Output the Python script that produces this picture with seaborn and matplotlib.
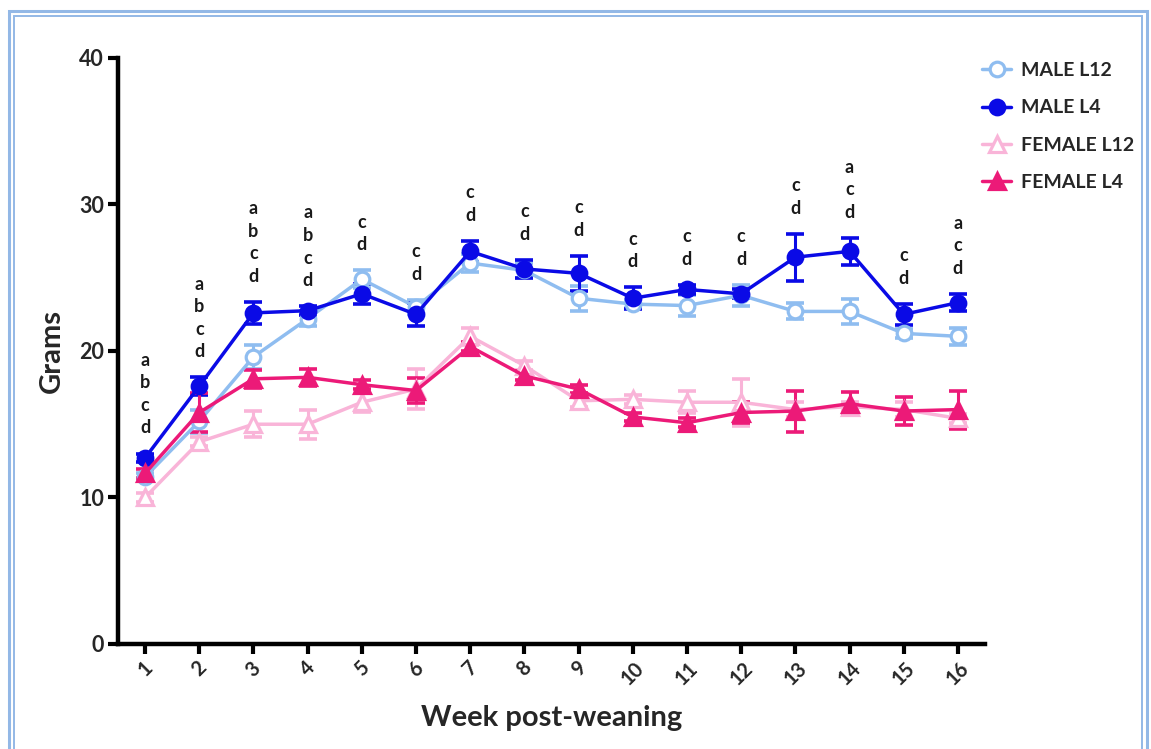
import matplotlib
matplotlib.use('Agg')
import matplotlib.pyplot as plt
import seaborn as sns
import pandas as pd
from matplotlib.patches import Rectangle

sns.set_style('white')
plt.rcParams['font.family'] = ['Lato', 'DejaVu Sans']
plt.rcParams['font.weight'] = 'bold'

weeks = list(range(1, 17))

male_l12 = [11.4, 15.2, 19.6, 22.2, 24.9, 23.0, 26.0, 25.5, 23.6, 23.2, 23.1, 23.8, 22.7, 22.7, 21.2, 21.0]
male_l12_sem = [0.3, 0.8, 0.8, 0.5, 0.6, 0.5, 0.6, 0.5, 0.85, 0.3, 0.7, 0.7, 0.55, 0.85, 0.3, 0.6]
male_l4 = [12.7, 17.6, 22.6, 22.75, 23.9, 22.5, 26.8, 25.6, 25.3, 23.6, 24.2, 23.9, 26.4, 26.8, 22.5, 23.3]
male_l4_sem = [0.3, 0.6, 0.75, 0.3, 0.7, 0.8, 0.7, 0.6, 1.2, 0.75, 0.3, 0.3, 1.6, 0.9, 0.7, 0.6]
female_l12 = [10.0, 13.8, 15.0, 15.0, 16.5, 17.4, 21.0, 19.0, 16.6, 16.7, 16.5, 16.5, 16.0, 16.2, 16.0, 15.4]
female_l12_sem = [0.3, 0.3, 0.9, 1.0, 0.65, 1.35, 0.6, 0.3, 0.4, 0.3, 0.75, 1.6, 0.5, 0.3, 0.5, 0.3]
female_l4 = [11.65, 15.8, 18.1, 18.2, 17.7, 17.3, 20.3, 18.3, 17.4, 15.5, 15.1, 15.8, 15.9, 16.4, 15.9, 16.0]
female_l4_sem = [0.3, 1.35, 0.6, 0.6, 0.3, 0.85, 0.3, 0.3, 0.3, 0.3, 0.3, 0.7, 1.4, 0.8, 0.95, 1.3]

# significance letters per week
letters = ['abcd', 'abcd', 'abcd', 'abcd', 'cd', 'cd', 'cd', 'cd',
           'cd', 'cd', 'cd', 'cd', 'cd', 'acd', 'cd', 'acd']

series = [
    ('MALE L12', male_l12, male_l12_sem, '#8fbdf0', 'o', True),
    ('MALE L4', male_l4, male_l4_sem, '#0a0ae6', 'o', False),
    ('FEMALE L12', female_l12, female_l12_sem, '#f9b4d8', '^', True),
    ('FEMALE L4', female_l4, female_l4_sem, '#ec1a78', '^', False),
]

fig = plt.figure(figsize=(11.51, 7.49), dpi=100)
ax = fig.add_axes([0.1025, 0.1402, 0.7533, 0.7824])

for name, vals, sem, color, mk, hollow in series:
    df = pd.DataFrame({'week': weeks, 'g': vals})
    ax.errorbar(weeks, vals, yerr=sem, fmt='none', ecolor=color,
                elinewidth=2.2, capsize=6.5, capthick=2.6, zorder=2)
    sns.lineplot(data=df, x='week', y='g', ax=ax, color=color, linewidth=2.5,
                 marker=mk, markersize=10.5 if mk == 'o' else 11,
                 markerfacecolor='white' if hollow else color,
                 markeredgecolor=color, markeredgewidth=2.3,
                 label=name, zorder=3)

# letters stacked above the highest error bar of each week
for i, w in enumerate(weeks):
    top = max(s[1][i] + s[2][i] for s in series)
    base = top + 1.75
    for j, ch in enumerate(reversed(letters[i])):
        ax.text(w, base + j * 1.54, ch, ha='center', va='center',
                fontsize=13, fontweight='bold', color='#1a1a1a')

ax.set_xlim(0.5, 16.5)
ax.set_ylim(0, 40)
ax.set_xticks(weeks)
ax.set_xticklabels([str(w) for w in weeks], rotation=45, ha='center',
                   fontsize=14.5, fontweight='bold')
ax.set_yticks([0, 10, 20, 30, 40])
ax.set_yticklabels(['0', '10', '20', '30', '40'], fontsize=15.5, fontweight='bold')
ax.tick_params(axis='both', direction='out', length=7, width=3, color='black',
               bottom=True, left=True, pad=3)
sns.despine(ax=ax)
for sp in ['left', 'bottom']:
    ax.spines[sp].set_linewidth(3.2)
    ax.spines[sp].set_color('black')

ax.set_xlabel('Week post-weaning', fontsize=21, fontweight='bold', labelpad=12)
ax.set_ylabel('Grams', fontsize=21, fontweight='bold', labelpad=10)

ax.legend(loc='upper left', bbox_to_anchor=(982 / 1151, 1 - 62 / 749),
          bbox_transform=fig.transFigure, frameon=False,
          prop={'weight': 'bold', 'size': 14}, handlelength=1.5,
          handletextpad=0.5, labelspacing=1.05, borderpad=0, borderaxespad=0)

# double light-blue frame around the figure
fig.patches.append(Rectangle((9 / 1151, -0.05), 1138 / 1151, 1.05 - 11 / 749,
                             transform=fig.transFigure, fill=False,
                             edgecolor='#93b8e6', linewidth=2.2))
fig.patches.append(Rectangle((14 / 1151, -0.05), 1128 / 1151, 1.05 - 16 / 749,
                             transform=fig.transFigure, fill=False,
                             edgecolor='#93b8e6', linewidth=1.4))

fig.savefig('out.png', dpi=100, facecolor='white')
